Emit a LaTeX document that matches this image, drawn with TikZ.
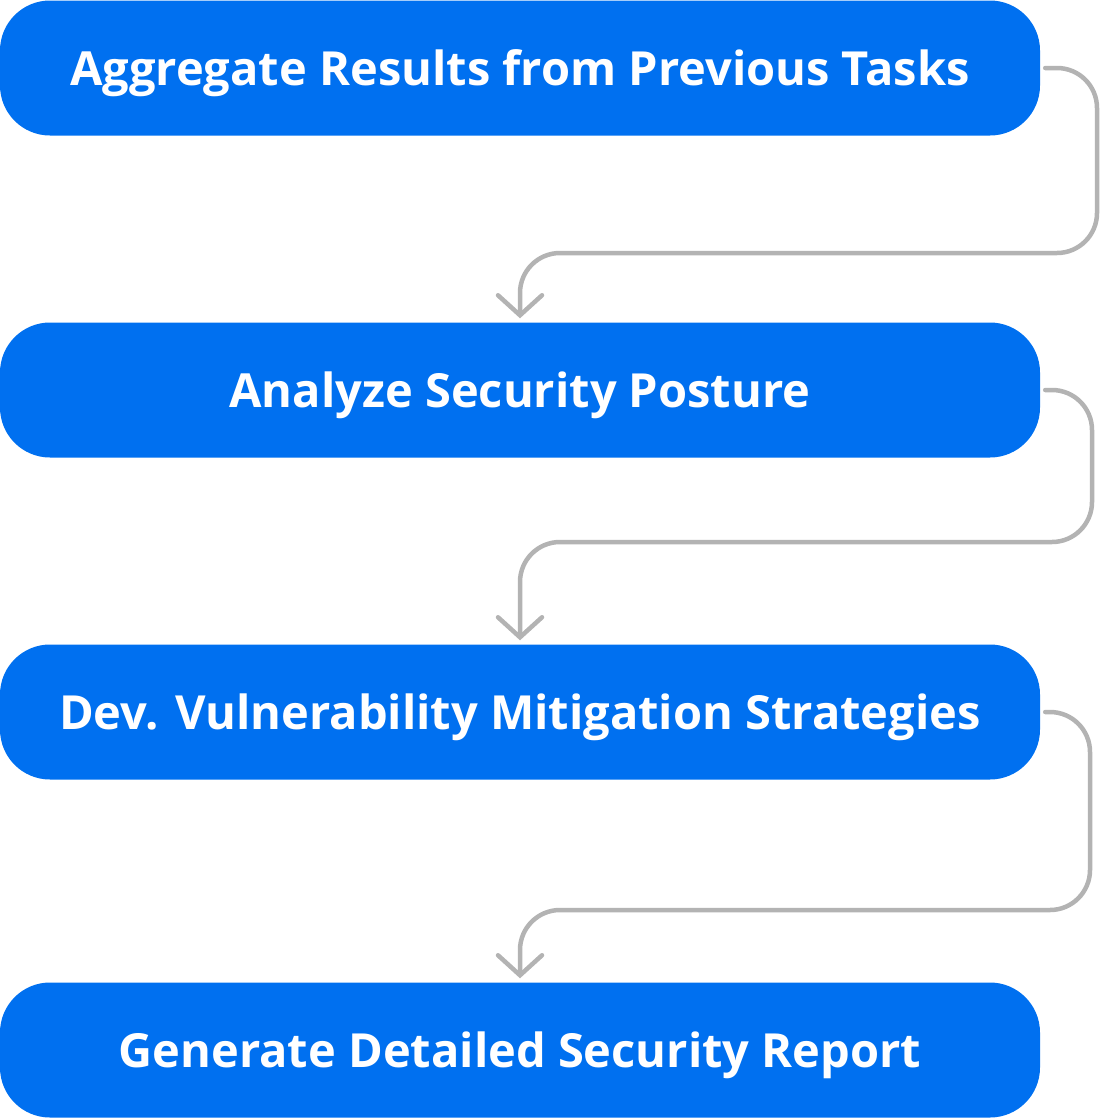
\documentclass[tikz,border=0pt]{standalone}
\usepackage{fontspec}
\setmainfont{Open Sans}
\usetikzlibrary{arrows.meta,positioning,calc}
\definecolor{stepblue}{HTML}{0070F0}
\definecolor{flowgray}{HTML}{B3B3B3}

\begin{document}
\begin{tikzpicture}[x=1pt,y=-1pt,
    stepbox/.style={fill=stepblue,rounded corners=50pt,minimum width=1040pt,minimum height=135pt,
        text=white,font=\bfseries\fontsize{47}{50}\selectfont,inner sep=0pt,
        text height=34pt,text depth=0pt},
    flow/.style={draw=flowgray,line width=4.5pt,line cap=round,rounded corners=40pt,
        -{Straight Barb[length=20pt,width=44pt,line cap=round]},shorten >=4pt}]

    \useasboundingbox (0,0) rectangle (1100,1120);

    \node[stepbox](agg) at (520, 68) {Aggregate Results from Previous Tasks};
    \node[stepbox](ana) at (520, 390) {Analyze Security Posture};
    \node[stepbox](dev) at (520, 712) {Dev. Vulnerability Mitigation Strategies};
    \node[stepbox](gen) at (520, 1050) {Generate Detailed Security Report};

    \draw[flow] ([xshift=5pt]agg.east) -| (1097, 253) -| (ana.north);
    \draw[flow] ([xshift=5pt]ana.east) -| (1092, 542) -| (dev.north);
    \draw[flow] ([xshift=5pt]dev.east) -| (1090, 910) -| (gen.north);

\end{tikzpicture}
\end{document}
